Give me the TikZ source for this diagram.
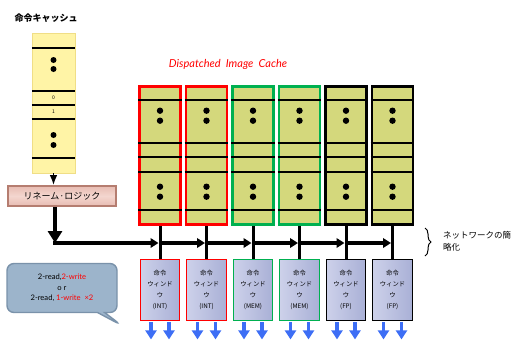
\documentclass[tikz,border=0pt]{standalone}
\usepackage{fontspec}
\setmainfont{Noto Sans CJK JP}
\newfontfamily\latfont{Lato}
\usepackage{xcolor}
\usepackage{tikz}
\usetikzlibrary{arrows.meta,positioning,shapes.callouts,decorations.pathreplacing}
\definecolor{dicfill}{HTML}{D4D87C}
\definecolor{icfill}{HTML}{FFF4A6}
\definecolor{icline}{HTML}{F0DE86}
\definecolor{renfill}{HTML}{E8BCB2}
\definecolor{renfilllt}{HTML}{F3D6CF}
\definecolor{renline}{HTML}{B57D70}
\definecolor{winfill}{HTML}{A9B0D6}
\definecolor{winfilllt}{HTML}{CDD1EA}
\definecolor{memofill}{HTML}{9CB4CB}
\definecolor{memoline}{HTML}{7A92AA}
\definecolor{dicred}{HTML}{FF0000}
\definecolor{dicgreen}{HTML}{00B050}
\definecolor{outblue}{HTML}{3D6EF5}

\begin{document}
\begin{tikzpicture}[x=1pt,y=-1pt,>=Latex,every node/.style={align=center,inner sep=0pt},
  dicbox/.style={draw=#1,line width=2.6pt,fill=dicfill,minimum width=41pt,minimum height=138pt},
  winbox/.style={draw=#1,line width=1.3pt,left color=winfilllt,right color=winfill,minimum width=39.5pt,minimum height=61.5pt,font=\fontsize{6.3}{11}\selectfont},
  slot/.style={line width=1.6pt},
  link/.style={line width=3pt},
  bus/.style={line width=3.6pt,-{Triangle[length=8pt,width=9.5pt]},shorten >=1.5pt},
  outarrow/.style={outblue,line width=3.6pt,-{Triangle[length=9pt,width=11pt]}}]
\useasboundingbox (0,0) rectangle (514,341);

% instruction cache
\node[font=\fontsize{9}{9}\selectfont\bfseries] (ictitle) at (46,18) {命令キャッシュ};
\node[draw=icline,fill=icfill,minimum width=43pt,minimum height=140pt] (icache) at (53.5,103) {};
\foreach \y in {48,91,105,119,158}
  \draw[slot] (icache.west |- 0,\y) -- (icache.east |- 0,\y);
\foreach \y in {60,69,135,145}
  \fill (53.5,\y) circle (3pt);
\node[font=\fontsize{5}{5}\selectfont] (ic0) at (53.5,98) {0};
\node[font=\fontsize{5}{5}\selectfont] (ic1) at (53.5,112) {1};

% rename logic
\node[draw=renline,line width=1.5pt,top color=renfill,bottom color=renfill,middle color=renfilllt,minimum width=108pt,minimum height=20pt,font=\fontsize{9}{9}\selectfont] (rename) at (62,196) {リネーム·ロジック};
\draw[->,line width=1.6pt] (icache.south) -- (icache.south |- rename.north);

% dispatched image cache
\node[text=dicred,font=\latfont\itshape\fontsize{11}{11}\selectfont] (dictitle) at (228,64) {Dispatched\ \ Image\ \ Cache};
\coordinate (turn) at (55,243);
\coordinate (bus0) at ([xshift=-2pt]turn);
\draw[line width=4pt,-{Triangle[length=12pt,width=14pt]}] (rename.south -| turn) -- (turn);
\foreach \i/\x/\c/\u [remember=\i as \j (initially 0)] in {1/160/dicred/INT,2/206.5/dicred/INT,3/253/dicgreen/MEM,4/299.5/dicgreen/MEM,5/346/black/FP,6/392.5/black/FP} {
  \node[dicbox=\c] (col\i) at (\x,155.5) {};
  \foreach \d in {14.5,57.5,71.5,86.5,124.5}
    \draw[slot] ([yshift=-\d pt]col\i.north west) -- ([yshift=-\d pt]col\i.north east);
  \foreach \d in {25.5,35.5,101.5,111.5}
    \fill ([yshift=-\d pt]col\i.north) circle (3.2pt);
  \node[winbox=\c] (win\i) at (\x,290) {命令\\ウィンド\\ウ\\(\u)};
  \coordinate (bus\i) at (col\i.south |- turn);
  \draw[link] (col\i.south) -- (win\i.north);
  \draw[bus] (bus\j) -- (bus\i);
  \draw[outarrow] ([xshift=-9pt,yshift=-1pt]win\i.south) -- ++(0,17);
  \draw[outarrow] ([xshift=9pt,yshift=-1pt]win\i.south) -- ++(0,17);
}

% network note
\coordinate (brtop) at (425,228);
\coordinate (brbot) at (425,256);
\draw[line width=1pt,decorate,decoration={brace,amplitude=6pt}] (brtop) -- (brbot);
\node[anchor=west,align=left,font=\fontsize{8.5}{12}\selectfont] (netnote) at (443,241) {ネットワークの簡\\略化};

% port note
\node[rectangle callout,draw=memoline,line width=1.4pt,fill=memofill,rounded corners=7pt,minimum width=110pt,minimum height=49pt,callout absolute pointer={(121,325)},font=\latfont\fontsize{7.6}{10.5}\selectfont] (memo) at (62,288) {2-read,\textcolor{red}{2-write}\\o r\\2-read, \textcolor{red}{1-write\ \ ×2}};
\end{tikzpicture}
\end{document}
